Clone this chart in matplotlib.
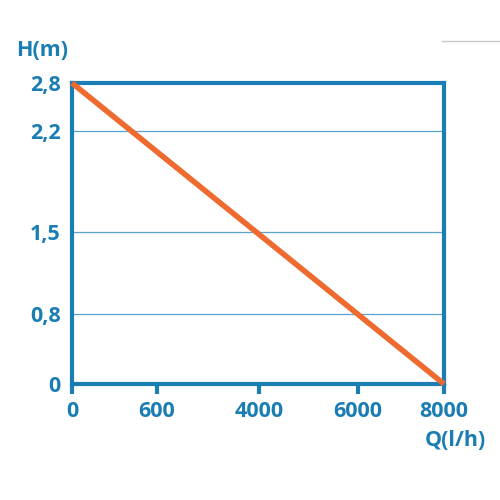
import matplotlib
matplotlib.use("Agg")
import matplotlib.pyplot as plt
import numpy as np

plt.rcParams['font.family'] = ['Open Sans', 'DejaVu Sans']

# Data
q_ticks = [0, 600, 4000, 6000, 8000]
h_ticks = [0, 0.8, 1.5, 2.2, 2.8]
q_labels = ["0", "600", "4000", "6000", "8000"]
h_labels = ["0", "0,8", "1,5", "2,2", "2,8"]
curve_q = [0, 8000]
curve_h = [2.8, 0]

# Tick positions on the (non-uniform) printed scale, as axis fractions
q_pos = [0.0, 0.228, 0.503, 0.769, 1.0]
h_pos = [0.0, 0.233, 0.505, 0.841, 1.0]

def qmap(v):
    return np.interp(v, q_ticks, q_pos)

def hmap(v):
    return np.interp(v, h_ticks, h_pos)

blue = "#1a7db3"
grid_blue = "#5aa5cf"
orange = "#ee6a2e"
fs = 15.5

fig = plt.figure(figsize=(5, 5), dpi=100)
ax = fig.add_axes([0.144, 0.232, 0.744, 0.602])
ax.set_xlim(0, 1)
ax.set_ylim(0, 1)

for p in h_pos[1:-1]:
    ax.axhline(p, color=grid_blue, lw=0.9, zorder=1)

ax.plot(qmap(curve_q), hmap(curve_h), color=orange, lw=4.0,
        solid_capstyle='butt', zorder=3, clip_on=False)

for s in ax.spines.values():
    s.set_color(blue)
    s.set_linewidth(3.0)

ax.set_xticks(q_pos)
ax.set_xticklabels(q_labels)
ax.set_yticks(h_pos)
ax.set_yticklabels(h_labels)
ax.tick_params(axis='x', direction='out', length=7, width=3, color=blue,
               labelcolor=blue, labelsize=fs, pad=5)
ax.tick_params(axis='y', length=0, labelcolor=blue, labelsize=fs, pad=8)
for lab in ax.get_xticklabels() + ax.get_yticklabels():
    lab.set_fontweight('bold')

fig.text(0.032, 0.898, "H(m)", color=blue, fontsize=fs, fontweight='bold',
         ha='left', va='center')
fig.text(0.972, 0.118, "Q(l/h)", color=blue, fontsize=fs, fontweight='bold',
         ha='right', va='center')

fig.add_artist(plt.Line2D([0.884, 1.0], [0.918, 0.918], color="#c8c8c8",
                          lw=1.0, transform=fig.transFigure))

fig.savefig("out.png", dpi=100, facecolor="white")
